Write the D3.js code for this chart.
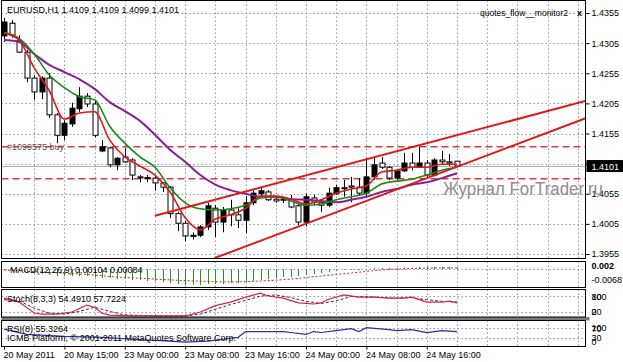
<!DOCTYPE html>
<html><head><meta charset="utf-8">
<script src="https://cdn.jsdelivr.net/npm/d3@7"></script>
<style>
html,body{margin:0;padding:0;background:#fff;}
svg{display:block;}
text{font-family:"Liberation Sans",Arial,sans-serif;font-size:9px;fill:#000;}
</style></head><body>
<svg id="c" width="623" height="362"></svg>
<script>
// ---------- DATA ----------
const headerText = "EURUSD,H1  1.4109 1.4109 1.4099 1.4101";
const opens  = [1.4317,1.4338,1.4309,1.4290,1.4247,1.4224,1.4247,1.4186,1.4152,1.4171,1.4196,1.4217,1.4204,1.4126,1.4131,1.4103,1.4116,1.4111,1.4083,1.4082,1.4081,1.4073,1.4066,1.4022,1.4006,1.3985,1.3986,1.4000,1.4031,1.4008,1.4028,1.4020,1.4011,1.4040,1.4055,1.4058,1.4046,1.4045,1.4046,1.4035,1.4008,1.4048,1.4041,1.4036,1.4055,1.4065,1.4068,1.4066,1.4056,1.4083,1.4106,1.4099,1.4081,1.4093,1.4106,1.4099,1.4106,1.4086,1.4111,1.4108,1.4109];
const highs  = [1.4347,1.4343,1.4318,1.4294,1.4252,1.4250,1.4255,1.4189,1.4177,1.4206,1.4232,1.4222,1.4209,1.4144,1.4133,1.4116,1.4131,1.4114,1.4086,1.4086,1.4084,1.4074,1.4068,1.4025,1.4010,1.3991,1.4003,1.4040,1.4036,1.4033,1.4045,1.4031,1.4051,1.4060,1.4066,1.4061,1.4050,1.4050,1.4053,1.4040,1.4055,1.4053,1.4046,1.4065,1.4070,1.4078,1.4083,1.4081,1.4114,1.4114,1.4116,1.4101,1.4096,1.4123,1.4123,1.4133,1.4111,1.4114,1.4126,1.4121,1.4109];
const lows   = [1.4307,1.4314,1.4289,1.4240,1.4211,1.4212,1.4181,1.4139,1.4144,1.4166,1.4191,1.4199,1.4149,1.4124,1.4099,1.4094,1.4106,1.4078,1.4074,1.4074,1.4060,1.4058,1.4015,1.3993,1.3976,1.3979,1.3983,1.3995,1.3983,1.3991,1.4001,1.3998,1.3990,1.4036,1.4051,1.4043,1.4040,1.4040,1.4031,1.4003,1.4001,1.4036,1.4025,1.4033,1.4053,1.4050,1.4041,1.4053,1.4050,1.4078,1.4096,1.4078,1.4078,1.4091,1.4094,1.4098,1.4083,1.4084,1.4103,1.4101,1.4099];
const closes = [1.4340,1.4318,1.4290,1.4247,1.4224,1.4247,1.4186,1.4152,1.4172,1.4197,1.4217,1.4204,1.4152,1.4133,1.4103,1.4114,1.4108,1.4086,1.4082,1.4081,1.4073,1.4066,1.4022,1.4006,1.3985,1.3986,1.4000,1.4035,1.4008,1.4028,1.4020,1.4011,1.4040,1.4056,1.4060,1.4045,1.4043,1.4046,1.4033,1.4008,1.4050,1.4041,1.4036,1.4056,1.4065,1.4064,1.4066,1.4056,1.4083,1.4103,1.4099,1.4081,1.4093,1.4106,1.4099,1.4106,1.4086,1.4111,1.4108,1.4106,1.4101];

const timeTickBars   = [0,8,16,24,32,40,48,56];
const timeTickLabels = ["20 May 2011","20 May 15:00","23 May 00:00","23 May 08:00","23 May 16:00","24 May 00:00","24 May 08:00","24 May 16:00"];
const priceTicks = [1.3955,1.4005,1.4055,1.4105,1.4155,1.4205,1.4255,1.4305,1.4355];
const lastPrice = 1.4101;

const maBars = [0,2,4,6,8,10,12,14,16,18,20,22,24,26,28,30,32,34,36,38,40,42,44,46,48,50,52,54,56,58,60];
const maFast = [1.4322,1.4310,1.4264,1.4226,1.4179,1.4189,1.4191,1.4144,1.4116,1.4101,1.4086,1.4058,1.4015,1.3995,1.4013,1.4020,1.4031,1.4051,1.4051,1.4046,1.4038,1.4045,1.4056,1.4063,1.4068,1.4091,1.4094,1.4099,1.4099,1.4104,1.4104];
const maMid  = [1.4323,1.4313,1.4287,1.4252,1.4231,1.4216,1.4211,1.4167,1.4139,1.4116,1.4099,1.4065,1.4040,1.4030,1.4028,1.4030,1.4036,1.4048,1.4050,1.4043,1.4036,1.4038,1.4045,1.4050,1.4056,1.4071,1.4076,1.4079,1.4086,1.4094,1.4099];
const maSlow = [1.4310,1.4307,1.4287,1.4269,1.4257,1.4245,1.4229,1.4207,1.4192,1.4176,1.4153,1.4128,1.4108,1.4086,1.4070,1.4061,1.4055,1.4050,1.4050,1.4046,1.4045,1.4043,1.4041,1.4045,1.4050,1.4058,1.4063,1.4070,1.4074,1.4081,1.4089];

const trendUpper = [[20.0,1.40186],[77.5,1.42106]];
const trendLower = [[27.9,1.39483],[77.5,1.41824]];
const orderLevels = [1.4133,1.4080];
const orderLabel = "#1099575 buy";

const macdHist = [-0.0005,-0.0005,-0.0011,-0.0018,-0.0024,-0.0030,-0.0036,-0.0043,-0.0043,-0.0043,-0.0043,-0.0043,-0.0049,-0.0055,-0.0055,-0.0062,-0.0062,-0.0068,-0.0068,-0.0074,-0.0074,-0.0080,-0.0087,-0.0093,-0.0099,-0.0099,-0.0099,-0.0093,-0.0093,-0.0093,-0.0087,-0.0087,-0.0080,-0.0074,-0.0068,-0.0062,-0.0055,-0.0049,-0.0049,-0.0043,-0.0036,-0.0030,-0.0024,-0.0018,-0.0011,-0.0005,-0.0005,-0.0005,0.0001,0.0008,0.0008,0.0008,0.0008,0.0011,0.0011,0.0014,0.0011,0.0014,0.0014,0.0014,0.0010];
const macdSigBars = [0,5,10,15,20,25,30,34,38,42,46,50,54,58,60];
const macdSignal  = [-0.0005,-0.0018,-0.0030,-0.0049,-0.0062,-0.0074,-0.0080,-0.0074,-0.0062,-0.0043,-0.0024,-0.0005,0.0004,0.0008,0.0008];
const macdTicks = [0.002,-0.0068];
const macdTickLabels = ["0.002","-0.0068"];

const stochMainBars = [0,2,4,5,7,9,10,11,12,13,14,17,21,24,26,28,30,32,34,35,37,39,41,42,43,45,47,49,51,53,54,56,58,59,60];
const stochMain     = [72,57,16,12,12,20,33,46,38,15,8,5,5,5,20,44,57,76,91,80,72,54,50,54,68,84,76,76,72,72,76,57,57,61,54.49];
const stochSigBars  = [0,2,4,6,8,10,12,14,16,20,24,26,28,30,32,34,36,38,40,42,44,46,48,50,52,54,56,58,60];
const stochSignal   = [66,62,34,16,12,22,38,22,9,5,5,12,30,48,64,80,84,74,60,52,62,78,78,74,72,74,66,60,57.72];
const stochTicks = [100,80,20,0];

const rsiBars = [0,3,8,13,17,22,24,27,29,31,32,34,37,38,40,41,42,44,46,47,48,51,52,54,56,58,60];
const rsiVals = [66,44,36,32,24,16,12,16,24,32,56,56,56,52,44,56,52,60,68,56,72,64,60,64,52,60,55.33];
const rsiTicks = [100,70,30,0];

// ---------- LAYOUT ----------
const svg = d3.select("#c");
const L = 1.5, R = 585.5;
const P = {
  main:  {t:0.5,   b:258.5},
  macd:  {t:261.5, b:287.5},
  stoch: {t:289.5, b:317},
  rsi:   {t:320.5, b:346.5}
};
const x = d3.scaleLinear().domain([0,77]).range([4, 4+77*7.55]);
const y = d3.scaleLinear().domain([1.3955,1.4355]).range([254,13]);
const yM = d3.scaleLinear().domain([-0.0118,0.0045]).range([288,262]);
const yS = d3.scaleLinear().domain([0,100]).range([317.3,290.7]);
const yR = d3.scaleLinear().domain([0,100]).range([345,321]);
const gridColor = "#9098a8";
const px = v => Math.round(v)+0.5;
const FONT = "Liberation Sans, Arial, sans-serif";

const defs = svg.append("defs");
Object.entries(P).forEach(([k,p])=>{
  defs.append("clipPath").attr("id","clip-"+k).append("rect")
    .attr("x",L).attr("y",p.t).attr("width",R-L).attr("height",p.b-p.t);
});

// vertical grid in all panels
const gridBars = d3.range(4,78,4);
Object.entries(P).forEach(([k,p])=>{
  svg.append("g").selectAll("line").data(gridBars).join("line")
    .attr("x1",d=>px(x(d))).attr("x2",d=>px(x(d)))
    .attr("y1",p.t).attr("y2",p.b)
    .attr("stroke",gridColor).attr("stroke-width",1).attr("stroke-dasharray","1.5,2.5");
});
// horizontal grid main
svg.append("g").selectAll("line").data(priceTicks).join("line")
  .attr("x1",L).attr("x2",R).attr("y1",d=>px(y(d))).attr("y2",d=>px(y(d)))
  .attr("stroke",gridColor).attr("stroke-dasharray","1.5,2.5");

// ---------- MAIN PANEL ----------
const gm = svg.append("g").attr("clip-path","url(#clip-main)");
gm.append("line").attr("x1",L).attr("x2",R).attr("y1",px(y(lastPrice))).attr("y2",px(y(lastPrice)))
  .attr("stroke","#a8b0b8").attr("stroke-width",1);
gm.selectAll(".lvl").data(orderLevels).join("line")
  .attr("x1",L).attr("x2",R).attr("y1",d=>y(d)).attr("y2",d=>y(d))
  .attr("stroke","#e03a3a").attr("stroke-width",1.6).attr("stroke-dasharray","7,4");
gm.append("text").attr("x",7).attr("y",y(orderLevels[0])+3.5).style("fill","#555").text(orderLabel);

// candles
const bars = d3.range(opens.length);
const cg = gm.append("g");
cg.selectAll(".wick").data(bars).join("line")
  .attr("x1",i=>px(x(i))).attr("x2",i=>px(x(i)))
  .attr("y1",i=>y(highs[i])).attr("y2",i=>y(lows[i]))
  .attr("stroke","#000").attr("stroke-width",1);
cg.selectAll(".body").data(bars).join("rect")
  .attr("x",i=>px(x(i))-2.5).attr("width",5)
  .attr("y",i=>y(Math.max(opens[i],closes[i])))
  .attr("height",i=>Math.max(1,Math.abs(y(opens[i])-y(closes[i]))))
  .attr("fill",i=>closes[i]>opens[i]?"#000":"#fff")
  .attr("stroke","#000").attr("stroke-width",1);

// moving averages
const maLine = vals => d3.line().x((d,i)=>x(maBars[i])).y(d=>y(d)).curve(d3.curveMonotoneX)(vals);
gm.append("path").attr("d",maLine(maSlow)).attr("fill","none").attr("stroke","#8a1e9a").attr("stroke-width",2);
gm.append("path").attr("d",maLine(maMid)).attr("fill","none").attr("stroke","#178a17").attr("stroke-width",1.6);
gm.append("path").attr("d",maLine(maFast)).attr("fill","none").attr("stroke","#e01a1a").attr("stroke-width",1.6);

// trend lines
[trendUpper,trendLower].forEach(t=>{
  gm.append("line").attr("x1",x(t[0][0])).attr("y1",y(t[0][1])).attr("x2",x(t[1][0])).attr("y2",y(t[1][1]))
    .attr("stroke","#e01818").attr("stroke-width",2);
});

// header
svg.append("text").attr("x",7).attr("y",12.5).text(headerText);
svg.append("text").attr("x",480).attr("y",16).style("font-size","8.5px").text("quotes_flow__monitor2");
svg.append("text").attr("x",577).attr("y",16).style("font-size","9px").style("font-weight","bold").text("x");

// price axis
const pa = svg.append("g").attr("transform",`translate(${R},0)`)
  .call(d3.axisRight(y).tickValues(priceTicks).tickSize(4).tickPadding(2).tickFormat(d3.format(".4f")));
pa.select(".domain").remove();
pa.selectAll("text").style("font-family",FONT).style("font-size","9px")
  .style("display",d=>Math.abs(y(d)-y(lastPrice))<9?"none":null);
pa.selectAll("line").attr("stroke","#000");
// last price box
svg.append("rect").attr("x",R+1).attr("y",y(lastPrice)-6).attr("width",623-R-1).attr("height",12).attr("fill","#000");
svg.append("text").attr("x",R+6).attr("y",y(lastPrice)+3.5).style("fill","#fff").text(d3.format(".4f")(lastPrice));

// watermark
svg.append("text").attr("x",443).attr("y",195).style("font-size","18px").style("fill","#8e8e8e")
  .attr("textLength",160).attr("lengthAdjust","spacingAndGlyphs").text("Журнал ForTrader.ru");

// ---------- MACD ----------
const gmc = svg.append("g").attr("clip-path","url(#clip-macd)");
gmc.append("line").attr("x1",L).attr("x2",R).attr("y1",px(yM(0))).attr("y2",px(yM(0)))
  .attr("stroke",gridColor).attr("stroke-dasharray","1.5,2.5");
gmc.selectAll(".h").data(bars).join("line")
  .attr("x1",i=>px(x(i))).attr("x2",i=>px(x(i)))
  .attr("y1",yM(0)).attr("y2",i=>yM(macdHist[i]))
  .attr("stroke","#1f9a1f").attr("stroke-width",1);
gmc.append("path").attr("d",d3.line().x((d,i)=>x(macdSigBars[i])).y(d=>yM(d)).curve(d3.curveMonotoneX)(macdSignal))
  .attr("fill","none").attr("stroke","#d02020").attr("stroke-width",1).attr("stroke-dasharray","2,2");
svg.append("text").attr("x",10).attr("y",273).text("MACD(12,26,9) 0.00104 0.00084");
const ma = svg.append("g").attr("transform",`translate(${R},0)`)
  .call(d3.axisRight(yM).tickValues(macdTicks).tickSize(0).tickPadding(6).tickFormat((d,i)=>macdTickLabels[i]));
ma.select(".domain").remove();
ma.selectAll("text").style("font-family",FONT).style("font-size","9px");
ma.selectAll("text").filter((d,i)=>i===0).style("font-weight","bold");

// sub-window label placement: top/bottom labels are kept inside the window
function subAxis(scale, ticks, p){
  const g = svg.append("g").attr("transform",`translate(${R},0)`)
    .call(d3.axisRight(scale).tickValues(ticks).tickSize(0).tickPadding(6).tickFormat(d3.format("d")));
  g.select(".domain").remove();
  g.selectAll("text").style("font-family",FONT).style("font-size","9px")
    .attr("y",d=>{const v=scale(d); return Math.min(Math.max(v,p.t+7.5),p.b-5)-v;});
  return g;
}

// ---------- STOCH ----------
const gs = svg.append("g").attr("clip-path","url(#clip-stoch)");
gs.selectAll(".lv").data([80,20]).join("line")
  .attr("x1",L).attr("x2",R).attr("y1",d=>px(yS(d))).attr("y2",d=>px(yS(d)))
  .attr("stroke",gridColor).attr("stroke-dasharray","1.5,2.5");
gs.append("path").attr("d",d3.line().x((d,i)=>x(stochSigBars[i])).y(d=>yS(d))(stochSignal))
  .attr("fill","none").attr("stroke","#2a2a80").attr("stroke-width",1).attr("stroke-dasharray","3,2");
gs.append("path").attr("d",d3.line().x((d,i)=>x(stochMainBars[i])).y(d=>yS(d))(stochMain))
  .attr("fill","none").attr("stroke","#e0203a").attr("stroke-width",1.2);
svg.append("text").attr("x",7).attr("y",301.5).text("Stoch(8,3,3) 54.4910 57.7224");
subAxis(yS, stochTicks, P.stoch);

// ---------- RSI ----------
const gr = svg.append("g").attr("clip-path","url(#clip-rsi)");
gr.selectAll(".lv").data([70,30]).join("line")
  .attr("x1",L).attr("x2",R).attr("y1",d=>px(yR(d))).attr("y2",d=>px(yR(d)))
  .attr("stroke",gridColor).attr("stroke-dasharray","1.5,2.5");
gr.append("path").attr("d",d3.line().x((d,i)=>x(rsiBars[i])).y(d=>yR(d))(rsiVals))
  .attr("fill","none").attr("stroke","#2a30a0").attr("stroke-width",1.2);
svg.append("text").attr("x",7).attr("y",332).text("RSI(8) 55.3264");
svg.append("text").attr("x",7).attr("y",340.5).text("ICMB Platform, © 2001-2011 MetaQuotes Software Corp.");
subAxis(yR, rsiTicks, P.rsi);

// separator band
svg.append("rect").attr("x",L).attr("y",317).attr("width",R-L+4).attr("height",3.5).attr("fill","#7a7a7a");

// panel frames
Object.values(P).forEach(p=>{
  svg.append("rect").attr("x",L).attr("y",p.t).attr("width",R-L).attr("height",p.b-p.t)
    .attr("fill","none").attr("stroke","#000").attr("stroke-width",1);
});

// time axis
const ta = svg.append("g").attr("transform",`translate(0,${P.rsi.b})`)
  .call(d3.axisBottom(x).tickValues(timeTickBars).tickSize(3).tickPadding(2).tickFormat((d,i)=>timeTickLabels[i]));
ta.select(".domain").remove();
ta.selectAll("text").attr("text-anchor","start").attr("dx","-1").style("font-family",FONT).style("font-size","9px");
ta.selectAll("line").attr("stroke","#000");
</script>
</body></html>
